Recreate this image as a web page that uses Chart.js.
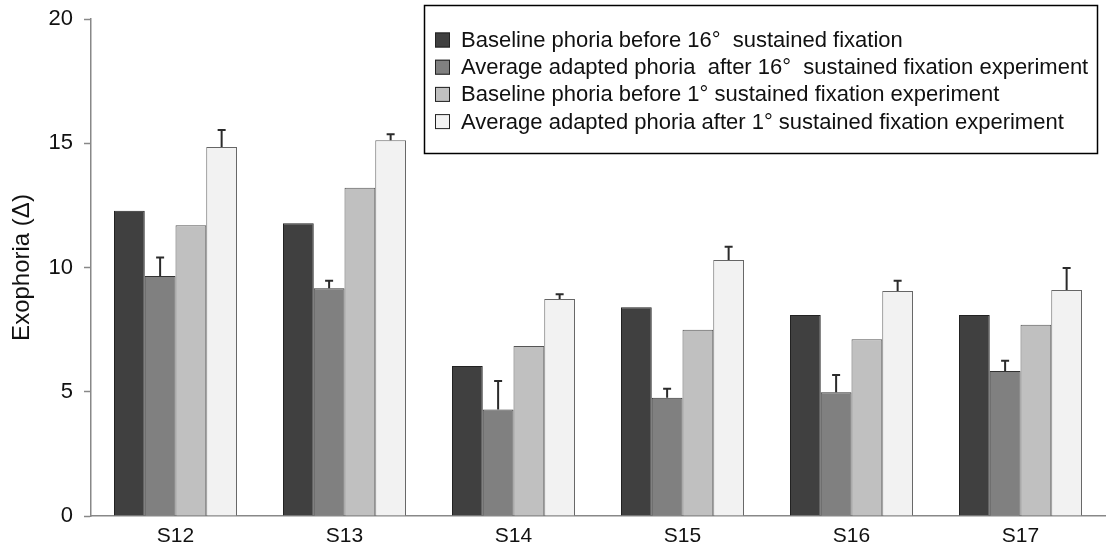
<!DOCTYPE html>
<html>
<head>
<meta charset="utf-8">
<script src="https://cdn.jsdelivr.net/npm/chart.js@4.4.1/dist/chart.umd.min.js"></script>
<style>
  html, body { margin: 0; padding: 0; background: #fff; }
  #wrap { width: 1116px; height: 548px; }
</style>
</head>
<body>
<div id="wrap"><canvas id="chart" width="1116" height="548"></canvas></div>
<script>
const subjects = ['S12', 'S13', 'S14', 'S15', 'S16', 'S17'];

const baseline16 = [12.28, 11.78, 6.04, 8.40, 8.09, 8.09];
const adapted16 = [9.66, 9.16, 4.29, 4.76, 4.98, 5.83];
const baseline1 = [11.70, 13.21, 6.84, 7.50, 7.11, 7.70];
const adapted1 = [14.85, 15.12, 8.73, 10.30, 9.05, 9.09];

// upper error (SD) on the adapted phoria bars
const adapted16Err = [0.74, 0.31, 1.14, 0.36, 0.69, 0.42];
const adapted1Err = [0.68, 0.24, 0.19, 0.54, 0.42, 0.89];

const yTicks = [0, 5, 10, 15, 20];

const seriesNames = [
    'Baseline phoria before 16\u00b0  sustained fixation',
    'Average adapted phoria  after 16\u00b0  sustained fixation experiment',
    'Baseline phoria before 1\u00b0 sustained fixation experiment',
    'Average adapted phoria after 1\u00b0 sustained fixation experiment'
];

const FONT = 'Liberation Sans, Arial, sans-serif';

const errorBars = {
    id: 'errorBars',
    afterDatasetsDraw(chart) {
        const ctx = chart.ctx;
        const y = chart.scales.y;
        ctx.save();
        ctx.strokeStyle = '#2b2b2b';
        ctx.lineWidth = 2;
        chart.data.datasets.forEach((ds, i) => {
            if (!ds.errors) return;
            chart.getDatasetMeta(i).data.forEach((bar, j) => {
                const top = y.getPixelForValue(ds.data[j] + ds.errors[j]);
                ctx.beginPath();
                ctx.moveTo(bar.x, bar.y);
                ctx.lineTo(bar.x, top);
                ctx.moveTo(bar.x - 4, top);
                ctx.lineTo(bar.x + 4, top);
                ctx.stroke();
            });
        });
        ctx.restore();
    }
};

const boxLegend = {
    id: 'boxLegend',
    afterDraw(chart) {
        const ctx = chart.ctx;
        ctx.save();
        ctx.strokeStyle = '#000';
        ctx.lineWidth = 1.5;
        ctx.strokeRect(424.5, 5.5, 673, 148);
        ctx.font = '22px ' + FONT;
        ctx.textBaseline = 'middle';
        chart.data.datasets.forEach((ds, i) => {
            const cy = 40 + i * 27.2;
            ctx.fillStyle = ds.backgroundColor;
            ctx.fillRect(435, cy - 7.5, 15, 15);
            ctx.strokeStyle = '#222';
            ctx.lineWidth = 1;
            ctx.strokeRect(435.5, cy - 7, 14, 14);
            ctx.fillStyle = '#111';
            ctx.fillText(ds.label, 461, cy + 1);
        });
        ctx.restore();
    }
};

new Chart(document.getElementById('chart').getContext('2d'), {
    type: 'bar',
    data: {
        labels: subjects,
        datasets: [
            { label: seriesNames[0], data: baseline16, backgroundColor: '#404040', borderColor: '#222222', borderWidth: 1 },
            { label: seriesNames[1], data: adapted16, errors: adapted16Err, backgroundColor: '#808080', borderColor: '#333333', borderWidth: 1 },
            { label: seriesNames[2], data: baseline1, backgroundColor: '#c0c0c0', borderColor: '#555555', borderWidth: 1 },
            { label: seriesNames[3], data: adapted1, errors: adapted1Err, backgroundColor: '#f2f2f2', borderColor: '#666666', borderWidth: 1 }
        ]
    },
    options: {
        responsive: false,
        animation: false,
        events: [],
        categoryPercentage: 0.728,
        barPercentage: 1,
        layout: { padding: { top: 19, right: 11, left: 0, bottom: 0 } },
        plugins: {
            legend: { display: false },
            tooltip: { enabled: false }
        },
        scales: {
            x: {
                grid: { display: false, drawTicks: false },
                border: { color: '#888', width: 1.5 },
                ticks: { color: '#111', font: { family: FONT, size: 21 }, padding: 8 },
                afterFit(s) { s.height = 32; s.paddingLeft = 0; s.paddingRight = 0; }
            },
            y: {
                min: 0,
                max: 20,
                afterBuildTicks(s) { s.ticks = yTicks.map(v => ({ value: v })); },
                grid: { drawOnChartArea: false, drawTicks: true, tickLength: 7, color: '#888', tickWidth: 1.5 },
                border: { color: '#888', width: 1.5 },
                ticks: { color: '#111', font: { family: FONT, size: 22 }, padding: 11 },
                title: {
                    display: true,
                    text: 'Exophoria (\u0394)',
                    color: '#111',
                    font: { family: FONT, size: 24 },
                    padding: { top: 8, bottom: 0 }
                },
                afterFit(s) { s.width = 91; s.paddingTop = 0; s.paddingBottom = 0; }
            }
        }
    },
    plugins: [errorBars, boxLegend]
});
</script>
</body>
</html>
